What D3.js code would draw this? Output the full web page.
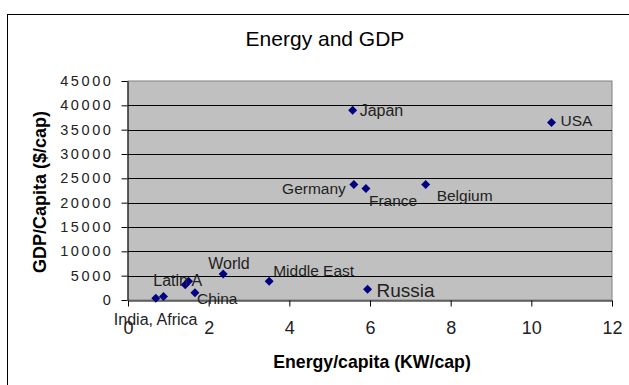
<!DOCTYPE html>
<html>
<head>
<meta charset="utf-8">
<script src="https://cdn.jsdelivr.net/npm/d3@7"></script>
<style>
  html, body { margin: 0; padding: 0; background: #fff; }
  svg { display: block; font-family: "Liberation Sans", Arial, sans-serif; }
</style>
</head>
<body>
<svg id="chart" width="629" height="385"></svg>
<script>
// Regions and their energy use vs. wealth per person
const regions = ["India", "Africa", "Latin A", "", "China", "World", "Middle East", "Russia", "Germany", "Japan", "France", "Belgium", "USA"];
const energyPerCapita = [0.69, 0.88, 1.42, 1.5, 1.66, 2.36, 3.5, 5.94, 5.6, 5.57, 5.9, 7.38, 10.5];
const gdpPerCapita = [350, 700, 3150, 3850, 1500, 5350, 3850, 2200, 23750, 39000, 22900, 23750, 36450];

const xTicks = [0, 2, 4, 6, 8, 10, 12];
const yTicks = [0, 5000, 10000, 15000, 20000, 25000, 30000, 35000, 40000, 45000];

// Data label placement (dx, dy from the marker, text anchor, font size)
const labelPlacement = {
  "India":       { text: "India, Africa", dx: -42, dy: 27, anchor: "start", size: 16 },
  "Latin A":     { text: "Latin A", dx: -32, dy: 1, anchor: "start", size: 16 },
  "China":       { text: "China", dx: 2, dy: 11, anchor: "start", size: 15.5 },
  "World":       { text: "World", dx: -15, dy: -5, anchor: "start", size: 16 },
  "Middle East": { text: "Middle East", dx: 4, dy: -5, anchor: "start", size: 15.5 },
  "Russia":      { text: "Russia", dx: 9, dy: 8, anchor: "start", size: 19 },
  "Germany":     { text: "Germany", dx: -8, dy: 10, anchor: "end", size: 15.5 },
  "Japan":       { text: "Japan", dx: 7, dy: 5.5, anchor: "start", size: 16 },
  "France":      { text: "France", dx: 3, dy: 17.5, anchor: "start", size: 15.5 },
  "Belgium":     { text: "Belgium", dx: 11, dy: 16.5, anchor: "start", size: 15.5 },
  "USA":         { text: "USA", dx: 9, dy: 3.5, anchor: "start", size: 15.5 }
};

const points = regions.map((r, i) => ({ name: r, x: energyPerCapita[i], y: gdpPerCapita[i] }));

const svg = d3.select("#chart");
const plot = { left: 128, right: 612, top: 81, bottom: 300 };

const x = d3.scaleLinear().domain([0, 12]).range([plot.left, plot.right]);
const y = d3.scaleLinear().domain([0, 45000]).range([plot.bottom, plot.top]);

// Chart frame
svg.append("rect")
  .attr("x", 7.5).attr("y", 14.5)
  .attr("width", 640).attr("height", 400)
  .attr("fill", "#fff").attr("stroke", "#000").attr("stroke-width", 1);

// Title
svg.append("text")
  .attr("x", 325).attr("y", 46)
  .attr("text-anchor", "middle")
  .attr("font-size", 21)
  .attr("fill", "#000")
  .text("Energy and GDP");

// Plot area
svg.append("rect")
  .attr("x", plot.left).attr("y", plot.top)
  .attr("width", plot.right - plot.left).attr("height", plot.bottom - plot.top)
  .attr("fill", "#c0c0c0").attr("stroke", "#808080").attr("stroke-width", 1);

// Horizontal gridlines
svg.append("g")
  .selectAll("line")
  .data(yTicks.filter(t => t > 0 && t < 45000))
  .join("line")
  .attr("x1", plot.left).attr("x2", plot.right)
  .attr("y1", d => Math.round(y(d)) + 0.5).attr("y2", d => Math.round(y(d)) + 0.5)
  .attr("stroke", "#000").attr("stroke-width", 1);

// Axes
const xAxis = d3.axisBottom(x).tickValues(xTicks).tickSize(6).tickSizeOuter(0).tickFormat(d3.format("d"));
const yAxis = d3.axisLeft(y).tickValues(yTicks).tickSize(6).tickSizeOuter(0).tickPadding(8).tickFormat(d3.format("d"));

const gx = svg.append("g")
  .attr("transform", `translate(0,${plot.bottom + 0.5})`)
  .call(xAxis);
const gy = svg.append("g")
  .attr("transform", `translate(${plot.left - 0.5},0)`)
  .call(yAxis);

[gx, gy].forEach(g => {
  g.select(".domain").attr("stroke", "#000");
  g.selectAll(".tick line").attr("stroke", "#000");
  g.selectAll(".tick text")
    .attr("font-family", "'Liberation Sans', Arial, sans-serif")
    .attr("fill", "#222");
});
gx.selectAll(".tick text")
  .attr("font-size", 18)
  .attr("y", 33.5)
  .attr("dy", 0);
gy.selectAll(".tick text")
  .attr("font-size", 14.5)
  .attr("letter-spacing", "2.6px");

// Axis titles
svg.append("text")
  .attr("x", 372).attr("y", 368)
  .attr("text-anchor", "middle")
  .attr("font-size", 17.7).attr("font-weight", "bold")
  .attr("fill", "#000")
  .text("Energy/capita (KW/cap)");

svg.append("text")
  .attr("transform", "translate(46,192) rotate(-90)")
  .attr("text-anchor", "middle")
  .attr("font-size", 18).attr("font-weight", "bold")
  .attr("fill", "#000")
  .text("GDP/Capita ($/cap)");

// Diamond markers
const diamond = "M0,-4.5L4.5,0L0,4.5L-4.5,0Z";
svg.append("g")
  .selectAll("path")
  .data(points)
  .join("path")
  .attr("d", diamond)
  .attr("transform", d => `translate(${x(d.x)},${y(d.y)})`)
  .attr("fill", "#000080");

// Data labels
svg.append("g")
  .selectAll("text")
  .data(points.filter(d => labelPlacement[d.name]))
  .join("text")
  .attr("x", d => x(d.x) + labelPlacement[d.name].dx)
  .attr("y", d => y(d.y) + labelPlacement[d.name].dy)
  .attr("text-anchor", d => labelPlacement[d.name].anchor)
  .attr("font-size", d => labelPlacement[d.name].size)
  .attr("fill", "#222")
  .text(d => labelPlacement[d.name].text);
</script>
</body>
</html>
